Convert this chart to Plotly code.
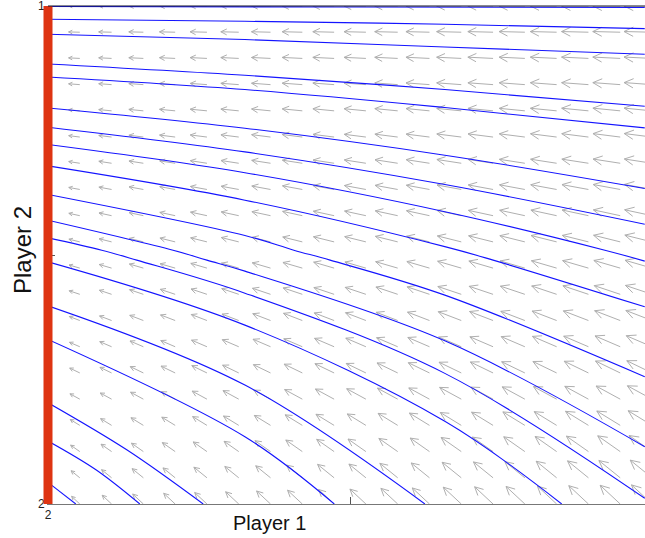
import numpy as np
import plotly.graph_objects as go

# ---------------------------------------------------------------------------
# Phase portrait of the two-player learning dynamics.
# Horizontal axis: Player 1 mixed strategy, vertical axis: Player 2.
# ---------------------------------------------------------------------------

X_MAX = 0.9884  # visible part of the Player 1 axis

# Sample trajectories (x knots, y knots), each drawn as a smooth curve
orbit_x = [
    [0.0, 0.5, 0.988],
    [0.0, 0.326, 0.657, 0.988],
    [0.0, 0.326, 0.657, 0.988],
    [0.0, 0.326, 0.657, 0.988],
    [0.0, 0.326, 0.657, 0.988],
    [0.0, 0.326, 0.657, 0.988],
    [0.0, 0.326, 0.657, 0.988],
    [0.0, 0.326, 0.657, 0.922, 0.988],
    [0.0, 0.326, 0.657, 0.737, 0.988],
    [0.0, 0.326, 0.407, 0.467, 0.657, 0.988],
    [0.0, 0.207, 0.263, 0.326, 0.657, 0.988],
    [0.0, 0.089, 0.147, 0.326, 0.657, 0.988],
    [0.0, 0.326, 0.657, 0.8505],
    [0.0, 0.326, 0.624],
    [0.0, 0.326, 0.474],
    [0.0, 0.131, 0.257],
    [0.0, 0.080, 0.152],
    [0.0, 0.046],
]
orbit_y = [
    [0.999, 0.998, 0.997],
    [0.9733, 0.9693, 0.9633, 0.9546],
    [0.9432, 0.9326, 0.9177, 0.9031],
    [0.8836, 0.8609, 0.8322, 0.7987],
    [0.8575, 0.8322, 0.7961, 0.7552],
    [0.7953, 0.7546, 0.7004, 0.6336],
    [0.7566, 0.7070, 0.6416, 0.5619],
    [0.7219, 0.6653, 0.5870, 0.5097, 0.4877],
    [0.6789, 0.6101, 0.5168, 0.4897, 0.3959],
    [0.6215, 0.5392, 0.5097, 0.4897, 0.4194, 0.2555],
    [0.5699, 0.5097, 0.4897, 0.4676, 0.3277, 0.1150],
    [0.5344, 0.5097, 0.4897, 0.4234, 0.2623, 0.0114],
    [0.4863, 0.3592, 0.1660, 0.0],
    [0.3980, 0.2388, 0.0],
    [0.3305, 0.1351, 0.0],
    [0.2033, 0.1084, 0.0],
    [0.1264, 0.0682, 0.0],
    [0.0435, 0.0],
]

# Direction field on a 20 x 20 grid
grid_x = [k / 19 for k in range(20)]
grid_y = [j / 19 for j in range(20)]
# heading of the flow in each row (degrees above the leftward direction)
row_angle_deg = [43, 39, 35, 31.5, 28.5, 25.8, 23.2, 21, 18.5, 16.2,
                 14, 12.2, 10.4, 8.8, 7.2, 5.6, 4.2, 2.8, 1.4, 0]
# relative speed in each column
col_speed = [0.0, 0.40, 0.46, 0.52, 0.56, 0.60, 0.64, 0.68, 0.72, 0.76,
             0.78, 0.82, 0.84, 0.88, 0.90, 0.92, 0.94, 0.96, 0.98, 1.0]

# tick labels name the pure strategies
tick_vals = [0, 0.5, 1]
tick_text = ["2", "", "1"]

# ---------------------------------------------------------------------------
W, H = 645, 538
M_L, M_R, M_T, M_B = 48, 0, 6, 34
PX_X = (W - M_L - M_R) / X_MAX   # pixels per unit on x
PX_Y = (H - M_T - M_B) / 1.0     # pixels per unit on y
ARROW_PX = 28.0                  # length of the fastest arrow
HEAD = 0.33                      # head length relative to arrow
HEAD_W = 0.5                     # head half-width relative to head length

qx, qy = [], []
for j, y0 in enumerate(grid_y):
    th = np.radians(row_angle_deg[j])
    ux, uy = -np.cos(th), np.sin(th)
    nx, ny = -uy, ux
    for k, x0 in enumerate(grid_x):
        L = ARROW_PX * col_speed[k]
        if L <= 0:
            continue
        tx, ty = L * ux, L * uy
        a = HEAD * L
        b = HEAD_W * a
        b1 = (tx - a * ux + b * nx, ty - a * uy + b * ny)
        b2 = (tx - a * ux - b * nx, ty - a * uy - b * ny)
        pts = [(0, 0), (tx, ty), None, b1, (tx, ty), b2, None]
        for p in pts:
            if p is None:
                qx.append(None)
                qy.append(None)
            else:
                qx.append(x0 + p[0] / PX_X)
                qy.append(y0 + p[1] / PX_Y)

fig = go.Figure()
fig.add_trace(go.Scatter(
    x=qx, y=qy, mode="lines",
    line=dict(color="rgb(175,175,175)", width=1),
    hoverinfo="skip", showlegend=False,
))
for xs, ys in zip(orbit_x, orbit_y):
    fig.add_trace(go.Scatter(
        x=xs, y=ys, mode="lines",
        line=dict(color="rgb(20,20,255)", width=1.1, shape="spline"),
        hoverinfo="skip", showlegend=False,
    ))

# line of rest points along Player 1's second strategy
fig.add_shape(type="line", xref="paper", yref="paper", x0=0, x1=0, y0=0, y1=1,
              line=dict(color="rgb(222,52,18)", width=9), layer="above")
# top frame
fig.add_shape(type="line", xref="paper", yref="paper", x0=0, x1=1, y0=1, y1=1,
              line=dict(color="rgb(20,20,40)", width=1.2), layer="above")

font = "Liberation Sans, Arial, Helvetica, sans-serif"
fig.add_annotation(text="Player 1", xref="paper", yref="paper",
                   x=(269 - M_L) / (W - M_L - M_R), y=-19 / (H - M_T - M_B),
                   xanchor="center", yanchor="middle", showarrow=False,
                   font=dict(family=font, size=20, color="#111"))
fig.add_annotation(text="Player 2", xref="paper", yref="paper",
                   x=(22 - M_L) / (W - M_L - M_R), y=0.51,
                   xanchor="center", yanchor="middle", showarrow=False,
                   textangle=-90,
                   font=dict(family=font, size=24, color="#111"))

axis_common = dict(
    tickvals=tick_vals, ticktext=tick_text, ticks="inside", ticklen=7,
    tickcolor="#555", showgrid=False, zeroline=False, showline=True,
    linecolor="#777", linewidth=1, ticklabeloverflow="allow",
    tickfont=dict(family=font, size=12, color="#222"),
)
fig.update_xaxes(range=[0, X_MAX], **axis_common)
fig.update_yaxes(range=[0, 1], **axis_common)

fig.update_layout(
    width=W, height=H,
    margin=dict(l=M_L, r=M_R, t=M_T, b=M_B),
    plot_bgcolor="white", paper_bgcolor="white",
    showlegend=False,
)
fig.write_html("out.html")
